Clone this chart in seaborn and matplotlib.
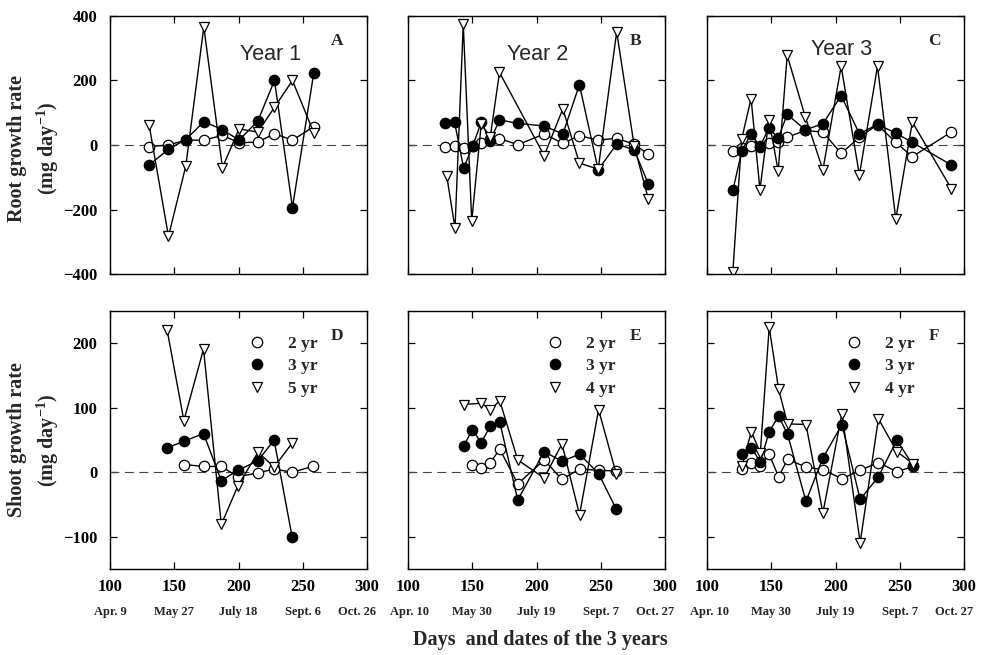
import matplotlib
matplotlib.use("Agg")
import matplotlib.pyplot as plt
import matplotlib.transforms as mtransforms
import seaborn as sns
import pandas as pd
from matplotlib.lines import Line2D

# ---------------- data ----------------
# Panel A (Year 1, root)
xA = [130.5, 145.5, 159, 173, 187.5, 200.4, 215, 228, 242, 258.6]
A_2yr = [-5, 0, 15, 15, 30, 7, 9, 35, 15, 57]
A_3yr = [-62, -13, 17, 72, 48, 15, 74, 200, -194, 224]
A_5yr = [61, -283, -65, 366, -70, 50, 40, 117, 200, 38]

# Panel B (Year 2, root)
xB = [128.5, 136.3, 143.3, 150.3, 157, 164, 171.2, 185.5, 206, 220.5, 233.4, 248, 262.4, 276, 287]
B_2yr = [-7, -3, -9, -2, 5, 18, 20, 1, 34, 5, 29, 15, 21, 2, -28]
B_3yr = [67, 70, -72, -3, 70, 13, 78, 67, 59, 34, 187, -77, 3, -15, -120]
xB_4 = [130.1, 136.6, 143, 149.6, 157, 164, 171.2, 206, 220.5, 233.4, 248, 262.4, 276, 287]
B_4yr = [-95, -258, 375, -236, 65, 25, 225, -33, 112, -56, -75, 351, -2, -167]

# Panel C (Year 3, root)
xC = [120.1, 127, 134.3, 141.2, 148.2, 155.4, 162.4, 176.5, 190.2, 204.4, 218.6, 232.7, 246.9, 259.8, 290.2]
C_2yr = [-20, -8, -4, -2, 5, 8, 24, 45, 40, -26, 24, 63, 8, -36, 40]
C_3yr = [-141, -20, 35, -5, 53, 21, 95, 47, 66, 153, 35, 64, 37, 8, -62]
C_4yr = [-395, 19, 144, -138, 79, -81, 278, 87, -77, 244, -93, 244, -230, 71, -136]

# Panel D (Year 1, shoot)
xD_2 = [157.5, 172.8, 186.6, 199.6, 215.2, 227.7, 241.7, 257.6]
D_2yr = [12, 9, 9, -7, -1, 5, 0, 9]
xD = [144.5, 157.5, 172.8, 186.6, 199.6, 215.2, 227.7, 241.7]
D_3yr = [38, 48, 60, -13, 3, 18, 50, -100]
D_5yr = [220, 80, 191, -81, -21, 31, 8, 45]

# Panel E (Year 2, shoot)
xE = [143.2, 150, 157, 164.2, 171.4, 185.4, 206, 219.8, 233.5, 248.3, 262]
xE_2 = [150, 157, 164.2, 171.4, 185.4, 206, 219.8, 233.5, 248.3, 262]
E_2yr = [12, 6, 15, 36, -18, 19, -11, 5, 3, 2]
E_3yr = [40, 66, 46, 72, 78, -43, 32, 17, 28, -2, -57]
xE_4 = [143.2, 157, 164.2, 171.4, 185.4, 206, 219.8, 233.5, 248.3, 262]
E_4yr = [105, 107, 97, 111, 19, -9, 44, -66, 97, -2]

# Panel F (Year 3, shoot)
xF = [127.2, 134.5, 141.5, 148.4, 155.7, 162.7, 177, 190.2, 205, 219.2, 233.4, 247.7, 260.6]
F_2yr = [5, 15, 9, 28, -7, 20, 8, 4, -10, 3, 15, 1, 9]
F_3yr = [28, 38, 16, 63, 87, 59, -45, 22, 74, -42, -7, 50, 10]
F_4yr = [9, 63, 30, 225, 129, 75, 74, -63, 91, -109, 83, 32, 13]

x_ticks = [100, 150, 200, 250, 300]
dates_y1 = ["Apr. 9", "May 27", "July 18", "Sept. 6", "Oct. 26"]
dates_y2 = ["Apr. 10", "May 30", "July 19", "Sept. 7", "Oct. 27"]
dates_y3 = ["Apr. 10", "May 30", "July 19", "Sept. 7", "Oct. 27"]
root_ticks = [-400, -200, 0, 200, 400]
shoot_ticks = [-100, 0, 100, 200]

# ---------------- style ----------------
sns.set_theme(style="white")
plt.rcParams['font.family'] = ['Liberation Serif', 'DejaVu Serif']
plt.rcParams['mathtext.fontset'] = 'custom'
plt.rcParams['mathtext.rm'] = 'Liberation Serif:bold'
plt.rcParams['mathtext.it'] = 'Liberation Serif:bold'
plt.rcParams['mathtext.bf'] = 'Liberation Serif:bold'

fig = plt.figure(figsize=(9.87, 6.55), dpi=100)
lefts = [110 / 987, 408 / 987, 707 / 987]
w = 257 / 987
h = 258 / 655
b_up = 1 - 274 / 655
b_lo = 1 - 569 / 655

axes_up = [fig.add_axes([l, b_up, w, h]) for l in lefts]
axes_lo = [fig.add_axes([l, b_lo, w, h]) for l in lefts]

STY = {
    "2": dict(marker="o", markerfacecolor="white", markeredgecolor="black", markersize=7.5, markeredgewidth=0.9),
    "3": dict(marker="o", markerfacecolor="black", markeredgecolor="black", markersize=7.5, markeredgewidth=0.9),
    "4": dict(marker="v", markerfacecolor="white", markeredgecolor="black", markersize=7.5, markeredgewidth=0.9),
}


def draw(ax, x, y, kind):
    df = pd.DataFrame({"x": x, "y": y})
    sns.lineplot(data=df, x="x", y="y", ax=ax, sort=False, color="black",
                 linewidth=1.0, estimator=None, **STY[kind])


panels = [
    (axes_up[0], [(xA, A_2yr, "2"), (xA, A_3yr, "3"), (xA, A_5yr, "4")]),
    (axes_up[1], [(xB, B_2yr, "2"), (xB, B_3yr, "3"), (xB_4, B_4yr, "4")]),
    (axes_up[2], [(xC, C_2yr, "2"), (xC, C_3yr, "3"), (xC, C_4yr, "4")]),
    (axes_lo[0], [(xD_2, D_2yr, "2"), (xD, D_3yr, "3"), (xD, D_5yr, "4")]),
    (axes_lo[1], [(xE_2, E_2yr, "2"), (xE, E_3yr, "3"), (xE_4, E_4yr, "4")]),
    (axes_lo[2], [(xF, F_2yr, "2"), (xF, F_3yr, "3"), (xF, F_4yr, "4")]),
]

for ax, series in panels:
    ax.axhline(0, color="#444444", linewidth=0.8, linestyle=(0, (8, 5)), zorder=1)
    for sx, sy, k in series:
        draw(ax, sx, sy, k)
    ax.set_xlim(100, 300)
    ax.set_xticks(x_ticks)
    ax.set_xlabel("")
    ax.set_ylabel("")
    for s in ax.spines.values():
        s.set_color("black")
        s.set_linewidth(1.0)
    ax.tick_params(direction="in", length=5, width=0.9, top=True, right=True,
                   bottom=True, left=True, colors="black")

for i, ax in enumerate(axes_up):
    ax.set_ylim(-400, 400)
    ax.set_yticks(root_ticks)
    ax.tick_params(labelbottom=False)
    if i > 0:
        ax.tick_params(labelleft=False)

for i, ax in enumerate(axes_lo):
    ax.set_ylim(-150, 250)
    ax.set_yticks(shoot_ticks)
    if i > 0:
        ax.tick_params(labelleft=False)

tick_font = dict(family="Liberation Serif", weight="bold", size=12)
for ax in axes_up[:1] + axes_lo[:1]:
    for lab in ax.get_yticklabels():
        lab.set_fontproperties(matplotlib.font_manager.FontProperties(**tick_font))
    ax.tick_params(axis="y", pad=9)
for ax in axes_lo:
    ax.set_xticklabels([str(t) for t in x_ticks], fontdict=dict(family="Liberation Serif", weight="bold", size=12))
    ax.tick_params(axis="x", pad=7)

# dates under lower panels
for j, (ax, dates) in enumerate(zip(axes_lo, [dates_y1, dates_y2, dates_y3])):
    base = ax.get_xaxis_transform()
    for k, (t, d) in enumerate(zip(x_ticks, dates)):
        dx = -10 if (k == len(x_ticks) - 1) else 0
        if k == 0 and j > 0:
            dx = 2
        tr = mtransforms.offset_copy(base, fig=fig, x=dx, y=0, units="dots")
        ax.text(t, -0.165, d, transform=tr, ha="center", va="center",
                fontsize=9, fontweight="bold", family="Liberation Serif")

# panel letters & year titles
letters = ["A", "B", "C", "D", "E", "F"]
for ax, L in zip(axes_up + axes_lo, letters):
    ax.text(0.885, 0.905, L, transform=ax.transAxes, ha="center", va="center",
            fontsize=12.5, fontweight="bold", family="Liberation Serif")
for ax, t, (xx, yy) in zip(axes_up, ["Year 1", "Year 2", "Year 3"],
                           [(0.625, 0.85), (0.505, 0.85), (0.525, 0.87)]):
    ax.text(xx, yy, t, transform=ax.transAxes, ha="center", va="center",
            fontsize=15.5, family="Liberation Sans")

# legends
for ax, lab3 in zip(axes_lo, ["5 yr", "4 yr", "4 yr"]):
    handles = [Line2D([], [], linestyle="none", **STY["2"]),
               Line2D([], [], linestyle="none", **STY["3"]),
               Line2D([], [], linestyle="none", **STY["4"])]
    ax.legend(handles, ["2 yr", "3 yr", lab3], loc="upper left", bbox_to_anchor=(0.51, 0.93),
              frameon=False, handlelength=1.0, handletextpad=1.3, labelspacing=0.35,
              prop=dict(family="Liberation Serif", weight="bold", size=12.5), borderaxespad=0)

# y labels
fig.text(34 / 987, 1 - 148 / 655, "Root growth rate\n(mg day$^{-1}$)", rotation=90, ha="center",
         va="center", fontsize=14.5, fontweight="bold", family="Liberation Serif", multialignment="center",
         linespacing=1.4)
fig.text(34 / 987, 1 - 440 / 655, "Shoot growth rate\n(mg day$^{-1}$)", rotation=90, ha="center",
         va="center", fontsize=14.5, fontweight="bold", family="Liberation Serif", multialignment="center",
         linespacing=1.4)

fig.text(540 / 987, 1 - 640 / 655, "Days  and dates of the 3 years", ha="center", va="center",
         fontsize=14.5, fontweight="bold", family="Liberation Serif")

fig.savefig("out.png", dpi=100)
